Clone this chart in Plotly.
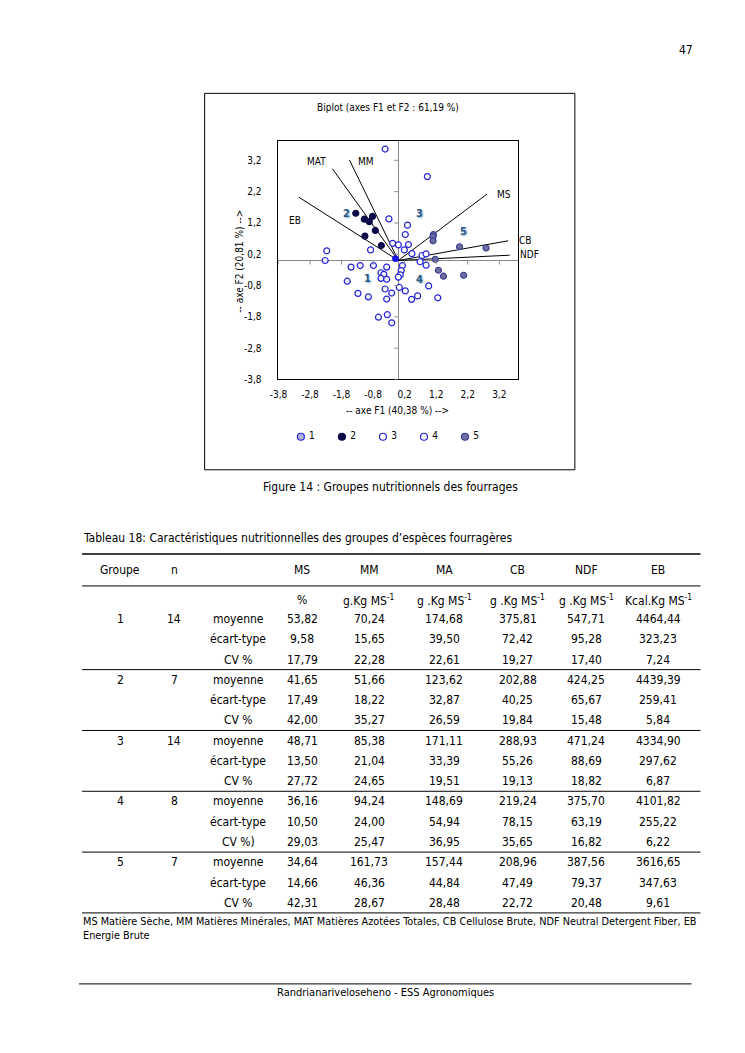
import plotly.graph_objects as go

# page is 745x1053; body keeps its default 8px margin, so the figure is 729x1037 at (8, 8)
PAGE_W, PAGE_H = 745, 1053
OFF = 8
FW, FH = PAGE_W - 2 * OFF, PAGE_H - 2 * OFF
FONT = "DejaVu Sans Condensed, DejaVu Sans, sans-serif"

# measured capture correction (screen = a + b * page)
CX_A, CX_B = 9.1, 0.987
CY_A, CY_B = 0.3, 0.994


def px(x):
    return ((x - CX_A) / CX_B - OFF) / FW


def py(y):
    return 1 - ((y - CY_A) / CY_B - OFF) / FH


# ---------------- biplot data ----------------
g1_x = [-2.32, -1.50, -1.21, -0.79, -0.37, -0.55, -0.46, -0.55, -0.37, -1.62, -0.42, -0.21, -1.28, -0.95, -0.37, -0.63, -0.35, -0.21]
g1_y = [0.00, -0.21, -0.16, -0.16, -0.21, -0.39, -0.44, -0.57, -0.60, -0.66, -0.91, -1.04, -1.05, -1.16, -1.23, -1.81, -1.73, -1.99]
g2_x = [-1.35, -1.08, -0.82, -0.92, -0.73, -1.06, -0.54]
g2_y = [1.51, 1.32, 1.41, 1.24, 0.96, 0.78, 0.48]
g3_x = [-0.42, 0.92, -0.30, 0.29, 0.22, 0.32, -0.18, 0.00, 0.19, 0.43, 0.75, 0.88, -0.88, -2.27]
g3_y = [3.56, 2.68, 1.33, 1.13, 0.83, 0.51, 0.55, 0.50, 0.34, 0.22, 0.16, 0.21, 0.34, 0.31]
g4_x = [0.13, 0.09, 0.06, 0.00, 0.03, 0.22, 0.42, 0.61, 0.96, 1.25, 0.69, 0.88]
g4_y = [-0.16, -0.32, -0.46, -0.53, -0.86, -0.97, -1.24, -1.13, -0.81, -1.19, -0.04, -0.15]
g5_x = [1.11, 1.10, 1.10, 1.94, 2.78, 1.17, 1.27, 1.43, 2.07]
g5_y = [0.83, 0.76, 0.63, 0.44, 0.40, 0.04, -0.31, -0.50, -0.47]
centre_x = [-0.09]
centre_y = [0.06]

group_names = ["1", "2", "3", "4", "5"]
group_label_x = [-0.98, -1.63, 0.67, 0.67, 2.07]
group_label_y = [-0.58, 1.51, 1.51, -0.60, 0.92]

var_names = ["MAT", "MM", "EB", "MS", "CB", "NDF"]
var_x = [-2.09, -1.55, -3.15, 2.81, 3.48, 3.53]
var_y = [2.93, 3.21, 2.02, 2.12, 0.63, 0.17]

axis_ticks = [-3.8, -2.8, -1.8, -0.8, 0.2, 1.2, 2.2, 3.2]

# ---------------- table data ----------------
tab_groups = ["1", "2", "3", "4", "5"]
tab_n = ["14", "7", "14", "8", "7"]
tab_stats = [["moyenne", "écart-type", "CV %"],
             ["moyenne", "écart-type", "CV %"],
             ["moyenne", "écart-type", "CV %"],
             ["moyenne", "écart-type", "CV %)"],
             ["moyenne", "écart-type", "CV %"]]
tab_cols = ["MS", "MM", "MA", "CB", "NDF", "EB"]
tab_units = ["%", "g.Kg MS<sup>-1</sup>", "g .Kg MS<sup>-1</sup>", "g .Kg MS<sup>-1</sup>",
             "g .Kg MS<sup>-1</sup>", "Kcal.Kg MS<sup>-1</sup>"]
MS = [53.82, 9.58, 17.79, 41.65, 17.49, 42.00, 48.71, 13.50, 27.72, 36.16, 10.50, 29.03, 34.64, 14.66, 42.31]
MM = [70.24, 15.65, 22.28, 51.66, 18.22, 35.27, 85.38, 21.04, 24.65, 94.24, 24.00, 25.47, 161.73, 46.36, 28.67]
MA = [174.68, 39.50, 22.61, 123.62, 32.87, 26.59, 171.11, 33.39, 19.51, 148.69, 54.94, 36.95, 157.44, 44.84, 28.48]
CB = [375.81, 72.42, 19.27, 202.88, 40.25, 19.84, 288.93, 55.26, 19.13, 219.24, 78.15, 35.65, 208.96, 47.49, 22.72]
NDF = [547.71, 95.28, 17.40, 424.25, 65.67, 15.48, 471.24, 88.69, 18.82, 375.70, 63.19, 16.82, 387.56, 79.37, 20.48]
EB = [4464.44, 323.23, 7.24, 4439.39, 259.41, 5.84, 4334.90, 297.62, 6.87, 4101.82, 255.22, 6.22, 3616.65, 347.63, 9.61]
tab_values = [MS, MM, MA, CB, NDF, EB]


def fr(v):
    return f"{v:.2f}".replace(".", ",")


def fr1(v):
    return f"{v:.1f}".replace(".", ",")


fig = go.Figure()

# vectors
vx, vy = [], []
for x, y in zip(var_x, var_y):
    vx += [0, x, None]
    vy += [0, y, None]
fig.add_trace(go.Scatter(x=vx, y=vy, mode="lines", line=dict(color="black", width=1),
                         showlegend=False, hoverinfo="skip"))

BLUE = "#2424d8"
point_fill = ["#f2f2fc", "#0b0b4a", "white", "white", "#6f6f9c"]
legend_fill = ["#b4b4e2", "#0b0b4a", "white", "white", "#6f6f9c"]
edge = [BLUE, "#0b0b4a", BLUE, BLUE, "#3c3c9a"]
for name, xs, ys, fc, ec in zip(group_names, [g1_x, g2_x, g3_x, g4_x, g5_x],
                                [g1_y, g2_y, g3_y, g4_y, g5_y], point_fill, edge):
    fig.add_trace(go.Scatter(x=xs, y=ys, mode="markers", name=name, showlegend=False,
                             marker=dict(size=6, symbol="circle", color=fc,
                                         line=dict(color=ec, width=1.2))))
fig.add_trace(go.Scatter(x=centre_x, y=centre_y, mode="markers", showlegend=False,
                         marker=dict(size=6, color="#1414e0", line=dict(color="#1414e0", width=1))))

# legend row (own category axis)
fig.add_trace(go.Scatter(x=group_names, y=[0] * len(group_names), xaxis="x2", yaxis="y2",
                         mode="markers+text", text=["\u00a0" + g for g in group_names],
                         textposition="middle right",
                         textfont=dict(family=FONT, size=10, color="black"), showlegend=False,
                         marker=dict(size=7, color=legend_fill, line=dict(color=edge, width=1.2))))

ticktext = [fr1(t) for t in axis_ticks]
axis_common = dict(range=[-3.8, 3.8], tickvals=axis_ticks, ticktext=ticktext,
                   showgrid=False, showline=True, mirror=True, linecolor="black", linewidth=1,
                   zeroline=True, zerolinecolor="#8a8a8a", zerolinewidth=1,
                   ticks="outside", tickcolor="rgba(0,0,0,0)",
                   tickfont=dict(family=FONT, size=10, color="black"), fixedrange=True)

shapes = []
for t in axis_ticks:
    shapes.append(dict(type="line", xref="x", yref="y", x0=t, x1=t, y0=0, y1=-4,
                       ysizemode="pixel", yanchor=0, line=dict(color="#8a8a8a", width=1)))
    shapes.append(dict(type="line", xref="x", yref="y", y0=t, y1=t,
                       xsizemode="pixel", xanchor=0, x0=-4, x1=0,
                       line=dict(color="#8a8a8a", width=1)))

shapes.append(dict(type="rect", xref="paper", yref="paper", x0=px(204.5), x1=px(574.5),
                   y0=py(469.5), y1=py(93.5), line=dict(color="black", width=1)))

ann = []
label_shift = {"MAT": (-16, 7), "MM": (17, -1), "EB": (-4, -23),
               "MS": (17, 0), "CB": (17, 0), "NDF": (20, 1)}
for nm, x, y in zip(var_names, var_x, var_y):
    sx, sy = label_shift[nm]
    ann.append(dict(x=x, y=y, xref="x", yref="y", text=nm, showarrow=False,
                    xshift=sx, yshift=sy, font=dict(family=FONT, size=10, color="black")))
for nm, x, y in zip(group_names, group_label_x, group_label_y):
    ann.append(dict(x=x, y=y, xref="x", yref="y", text="<b>" + nm + "</b>", showarrow=False,
                    font=dict(family=FONT, size=11, color="#2c5884",
                              shadow="1px 1px 2px #8fb0cc")))


def txt(x, y, s, size=12, xanchor="center", **kw):
    ann.append(dict(x=px(x), y=py(y), xref="paper", yref="paper", text=s, showarrow=False,
                    xanchor=xanchor, yanchor="middle",
                    font=dict(family=FONT, size=size, color="black"), **kw))


txt(686, 50, "47", 12)
txt(388, 108, "Biplot (axes F1 et F2 : 61,19 %)", 10)
txt(397, 410.5, "-- axe F1 (40,38 %) -->", 10)
txt(238.5, 261, "-- axe F2 (20,81 %) -->", 10, textangle=-90)
txt(390, 487, "Figure 14 : Groupes nutritionnels des fourrages", 12)

txt(80.5, 538, "Tableau 18: Caractéristiques nutritionnelles des groupes d’espèces fourragères", 12,
    xanchor="left")
col_x = [302, 369, 444, 517.5, 586, 658]
txt(120, 569.5, "Groupe")
txt(174, 569.5, "n")
for c, cx, u in zip(tab_cols, col_x, tab_units):
    txt(cx, 569.5, c)
    txt(cx, 599.5, u)
row0, step = 618.5, 20.25
for gi in range(5):
    for si in range(3):
        r = gi * 3 + si
        yy = row0 + r * step
        if si == 0:
            txt(120, yy, tab_groups[gi])
            txt(174, yy, tab_n[gi])
        txt(238, yy, tab_stats[gi][si])
        for vals, cx in zip(tab_values, col_x):
            txt(cx, yy, fr(vals[r]))

line_y = [553.5, 585.5] + [row0 + (3 * g + 2) * step + 10.1 for g in range(5)]
for i, ly in enumerate(line_y):
    shapes.append(dict(type="line", xref="paper", yref="paper", x0=px(82), x1=px(700),
                       y0=py(ly), y1=py(ly), line=dict(color="black", width=1.5 if i == 0 else 1)))

txt(81, 920.5, "MS Matière Sèche, MM Matières Minérales, MAT Matières Azotées Totales, CB Cellulose Brute, NDF Neutral Detergent Fiber, EB",
    10.8, xanchor="left")
txt(81, 934.5, "Energie Brute", 10.8, xanchor="left")

shapes.append(dict(type="line", xref="paper", yref="paper", x0=px(79), x1=px(691),
                   y0=py(983), y1=py(983), line=dict(color="black", width=1)))
txt(385, 992, "Randrianariveloseheno - ESS Agronomiques", 11)

fig.update_layout(
    width=FW, height=FH, margin=dict(l=0, r=0, t=0, b=0, pad=0),
    paper_bgcolor="white", plot_bgcolor="white",
    shapes=shapes, annotations=ann, showlegend=False,
    xaxis=dict(**axis_common, ticklen=6, domain=[px(278.3), px(517.9)]),
    yaxis=dict(**{**axis_common, "range": [-3.8, 3.83]}, ticklen=14,
               domain=[py(379.3), py(140.7)]),
    xaxis2=dict(type="category", range=[-0.5, 4.5], domain=[px(280.2), px(485.2)],
                visible=False, anchor="y2", fixedrange=True),
    yaxis2=dict(range=[-1, 1], domain=[py(446), py(427)], visible=False, anchor="x2",
                fixedrange=True),
    font=dict(family=FONT),
)

fig.write_html("out.html", config={"displayModeBar": False})
